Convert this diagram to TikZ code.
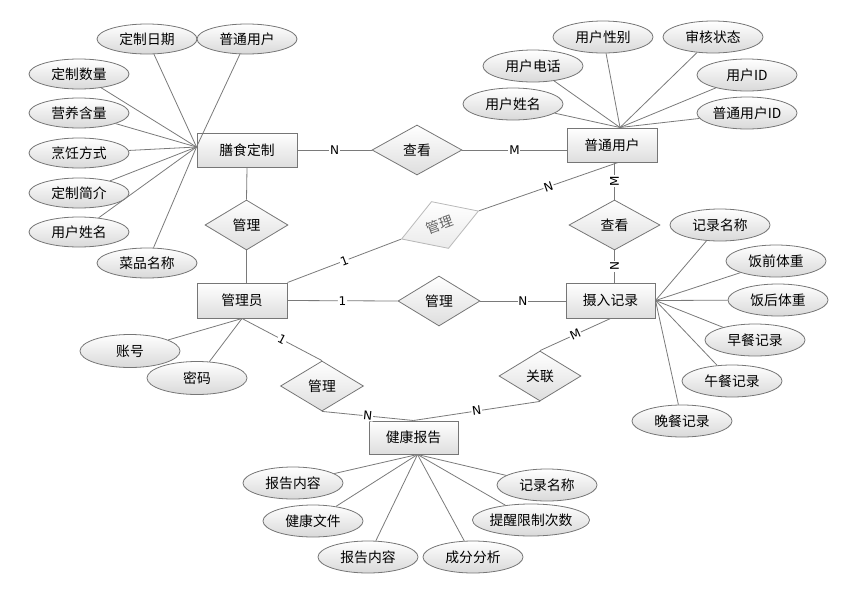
\documentclass[tikz,border=0pt]{standalone}
\usepackage{fontspec}
\setmainfont{Noto Sans CJK SC}
\newfontfamily\lblfont{DejaVu Sans}
\usetikzlibrary{shapes.geometric,calc}
\definecolor{lc}{HTML}{7A7A7A}
\definecolor{bc}{HTML}{767676}
\begin{document}
\begin{tikzpicture}[x=1pt,y=-1pt,
  every node/.style={font=\fontsize{13.8}{16}\selectfont, inner sep=0pt},
  ent/.style={rectangle, draw=bc, line width=1pt, top color=white, bottom color=black!13, minimum width=90pt, minimum height=34pt},
  rel/.style={diamond, draw=bc, line width=0.8pt, top color=white, bottom color=black!13, minimum width=83pt, minimum height=50pt},
  att/.style={ellipse, draw=bc, line width=0.8pt, top color=white, bottom color=black!15, minimum width=100pt, minimum height=32pt},
  attl/.style={att, minimum height=30pt},
  con/.style={draw=lc, line width=0.8pt},
  lbl/.style={font=\lblfont\fontsize{12}{14}\selectfont, fill=white, inner sep=0.8pt, sloped, pos=0.5},
]
\useasboundingbox (0,0) rectangle (868,592);

% entities
\node[ent, minimum width=100pt] (sc) at (247,150) {膳食定制};
\node[ent] (pt) at (612,145) {普通用户};
\node[ent, minimum height=35pt] (gl) at (242,300.5) {管理员};
\node[ent, minimum width=89pt, minimum height=35pt] (sr) at (610.5,300.5) {摄入记录};
\node[ent, minimum width=89pt, minimum height=33pt] (jk) at (413.5,437.5) {健康报告};

% relations
\node[rel, minimum width=90pt] (ck1) at (417,150) {查看};
\node[rel] (gl1) at (246.5,225) {管理};
\node[rel, draw=black!28, top color=white, bottom color=black!8, text=black!60, rotate=20, minimum width=82pt] (gl2) at (440,225) {管理};
\node[rel, minimum width=91pt] (ck2) at (614.5,225) {查看};
\node[rel, minimum width=82pt] (gl3) at (439,301) {管理};
\node[rel] (gl4) at (322,386) {管理};
\node[rel, minimum width=82pt] (gl5) at (540,376) {关联};

% attributes of 膳食定制
\node[attl] (a1) at (147,39) {定制日期};
\node[attl] (a2) at (247,39) {普通用户};
\node[attl] (a3) at (79,74) {定制数量};
\node[attl] (a4) at (79,113) {营养含量};
\node[attl] (a5) at (79,153) {烹饪方式};
\node[attl] (a6) at (79,193) {定制简介};
\node[attl] (a7) at (79,232) {用户姓名};
\node[attl] (a8) at (147,263) {菜品名称};
\foreach \n in {a1,a2,a3,a4,a5,a6,a7,a8}
  \draw[con] (\n) -- ($(sc.west)+(0,-3)$);

% attributes of 普通用户
\node[att] (b1) at (603,37) {用户性别};
\node[att] (b2) at (713,37) {审核状态};
\node[att] (b3) at (533,66) {用户电话};
\node[att] (b4) at (747,75) {用户ID};
\node[att] (b5) at (513,104) {用户姓名};
\node[att] (b6) at (747,113) {普通用户ID};
\foreach \n in {b1,b2,b3,b4,b5,b6}
  \draw[con] (\n) -- ($(pt.north)+(8,0)$);

% attributes of 摄入记录
\node[att] (c1) at (720,225) {记录名称};
\node[att] (c2) at (776,261) {饭前体重};
\node[att] (c3) at (778,300) {饭后体重};
\node[att] (c4) at (755,340) {早餐记录};
\node[att] (c5) at (732,381) {午餐记录};
\node[att] (c6) at (682,421) {晚餐记录};
\foreach \n in {c1,c2,c3,c4,c5,c6}
  \draw[con] (\n) -- (sr.east);

% attributes of 管理员
\node[att, minimum height=33pt] (d1) at (130,351) {账号};
\node[att, minimum height=33pt] (d2) at (197,378) {密码};
\foreach \n in {d1,d2}
  \draw[con] (\n) -- (gl.south);

% attributes of 健康报告
\node[att] (e1) at (293,483) {报告内容};
\node[att] (e2) at (313,521) {健康文件};
\node[att] (e3) at (368,557) {报告内容};
\node[att] (e4) at (473,557) {成分分析};
\node[att] (e5) at (547,485) {记录名称};
\node[att] (e6) at (531,520) {提醒限制次数};
\foreach \n in {e1,e2,e3,e4,e5,e6}
  \draw[con] (\n) -- ($(jk.south)+(4,0)$);

% relationship connectors
\draw[con] (sc.east) -- node[lbl]{N} (ck1.west);
\draw[con] (ck1.east) -- node[lbl]{M} (ck1.east -| pt.west);
\draw[con] (sc.south) -- (gl1.north);
\draw[con] (gl1.south) -- (gl1.south |- gl.north);
\draw[con] (gl.north east) -- node[lbl]{1} (gl2.west);
\draw[con] (gl2.east) -- node[lbl]{N} ($(pt.south)+(6,0)$);
\draw[con] (ck2.north) -- node[lbl]{M} (ck2.north |- pt.south);
\draw[con] (ck2.south |- sr.north) -- node[lbl]{N} (ck2.south);
\draw[con] (gl.east) -- node[lbl]{1} (gl3.west);
\draw[con] (gl3.east) -- node[lbl]{N} (gl3.east -| sr.west);
\draw[con] (gl.south) -- node[lbl]{1} (gl4.north);
\draw[con] (gl4.south) -- node[lbl]{N} (jk.north);
\draw[con] (jk.north) -- node[lbl]{N} (gl5.south);
\draw[con] (gl5.north) -- node[lbl]{M} (sr.south);
\end{tikzpicture}
\end{document}
